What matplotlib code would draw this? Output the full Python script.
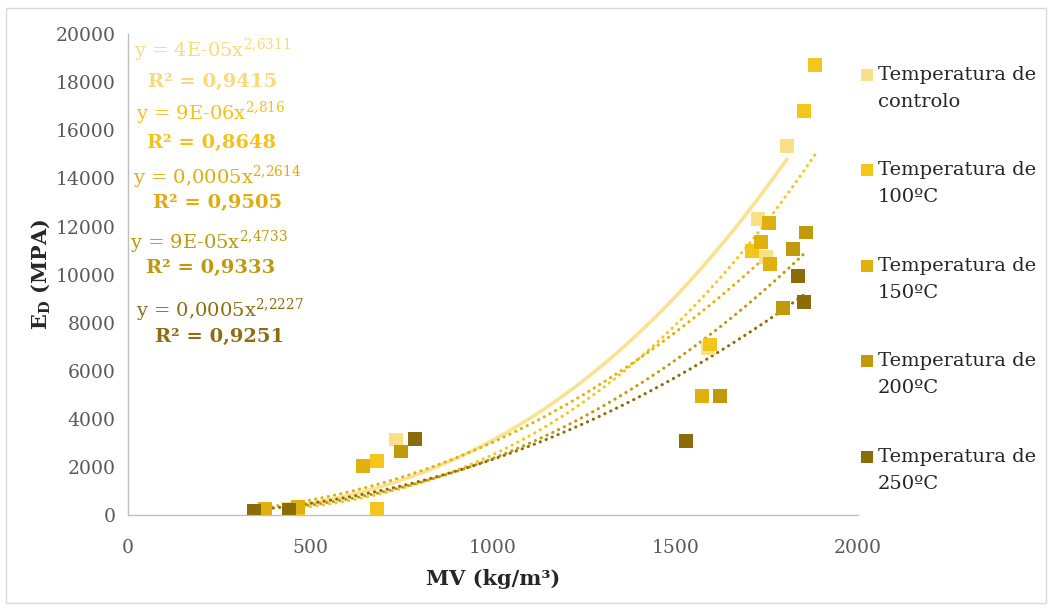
import matplotlib.pyplot as plt
import numpy as np
from matplotlib.lines import Line2D
from matplotlib.patches import Rectangle

plt.rcParams['font.family'] = ['DejaVu Serif']
plt.rcParams['mathtext.fontset'] = 'custom'
plt.rcParams['mathtext.rm'] = 'DejaVu Serif'

# massa volumica (kg/m3) vs modulo dinamico (MPa) por temperatura
mv_controlo = [440, 734, 1588, 1726, 1748, 1805]
ed_controlo = [250, 3150, 6950, 12300, 10750, 15350]

mv_100 = [465, 681, 681, 1595, 1709, 1852, 1882]
ed_100 = [320, 2250, 280, 7100, 11000, 16800, 18700]

mv_150 = [375, 465, 644, 1573, 1734, 1756, 1759]
ed_150 = [270, 350, 2050, 4950, 11350, 12150, 10450]

mv_200 = [440, 748, 1622, 1794, 1822, 1857]
ed_200 = [150, 2650, 4950, 8600, 11050, 11750]

mv_250 = [345, 440, 786, 1528, 1836, 1852]
ed_250 = [200, 220, 3170, 3100, 9950, 8850]

labels = ["Temperatura de\ncontrolo", "Temperatura de\n100ºC", "Temperatura de\n150ºC",
          "Temperatura de\n200ºC", "Temperatura de\n250ºC"]

# linhas de tendencia de potencia y = a*x^b
coef_a = [4e-05, 9e-06, 0.0005, 9e-05, 0.0005]
coef_b = [2.6311, 2.816, 2.2614, 2.4733, 2.2227]
eq_text = [r"y = 4E-05x$^{2{,}6311}$", r"y = 9E-06x$^{2{,}816}$", r"y = 0,0005x$^{2{,}2614}$",
           r"y = 9E-05x$^{2{,}4733}$", r"y = 0,0005x$^{2{,}2227}$"]
r2_text = ["R² = 0,9415", "R² = 0,8648", "R² = 0,9505", "R² = 0,9333", "R² = 0,9251"]

colors = ['#F9DF85', '#F4C51A', '#E0B00E', '#C09A0C', '#8C6C08']
text_colors = ['#F7DA7C', '#F1C21A', '#DDAD10', '#BE980E', '#8C6D10']

series_x = [mv_controlo, mv_100, mv_150, mv_200, mv_250]
series_y = [ed_controlo, ed_100, ed_150, ed_200, ed_250]

W, H = 1052, 610
fig = plt.figure(figsize=(W / 100, H / 100), dpi=100)
ax = fig.add_axes([0.1217, 0.1552, 0.6939, 0.7891])

for i in range(5):
    x = np.array(series_x[i])
    xs = np.linspace(x.min(), x.max(), 200)
    ys = coef_a[i] * xs ** coef_b[i]
    if i == 0:
        ax.plot(xs, ys, color=colors[i], lw=2.6, alpha=0.9, solid_capstyle='round', zorder=2)
    else:
        ax.plot(xs, ys, color=colors[i], lw=2.2, linestyle=(0, (0.1, 2.0)),
                dash_capstyle='round', zorder=2)

for i in range(5):
    ax.scatter(series_x[i], series_y[i], marker='s', s=100, color=colors[i],
               edgecolors='none', zorder=3)

ax.set_xlim(0, 2000)
ax.set_ylim(0, 20000)
ax.set_xticks([0, 500, 1000, 1500, 2000])
ax.set_yticks(np.arange(0, 20001, 2000))
ax.tick_params(length=0, labelsize=13.5, labelcolor='#595959', pad=9)
ax.tick_params(axis='x', pad=17)
for s in ['top', 'right']:
    ax.spines[s].set_visible(False)
for s in ['left', 'bottom']:
    ax.spines[s].set_color('#BFBFBF')
    ax.spines[s].set_linewidth(1)

ax.set_xlabel("MV (kg/m³)", fontsize=15, fontweight='bold', color='#262626', labelpad=9)
ax.set_ylabel(r"E$_\mathregular{D}$ (MPA)", fontsize=15, fontweight='bold', color='#262626', labelpad=2)

eq_pos = [(230, 19340), (227, 16720), (244, 14060), (221, 11360), (251, 8530)]
r2_pos = [(233, 18010), (230, 15480), (244, 12980), (227, 10280), (251, 7410)]
for i in range(5):
    ax.text(eq_pos[i][0], eq_pos[i][1], eq_text[i], color=text_colors[i], fontsize=14,
            ha='center', va='center')
    ax.text(r2_pos[i][0], r2_pos[i][1], r2_text[i], color=text_colors[i], fontsize=14,
            fontweight='bold', ha='center', va='center')

# legenda desenhada a direita, marcador alinhado com a primeira linha
leg_y = [75, 170, 266, 361, 457]
for i in range(5):
    fig.add_artist(Line2D([867 / W], [1 - leg_y[i] / H], transform=fig.transFigure,
                          marker='s', markersize=9, color=colors[i], markeredgewidth=0,
                          linestyle='none'))
    fig.text(878 / W, 1 - (leg_y[i] - 9) / H, labels[i], fontsize=14, color='#262626',
             ha='left', va='top', linespacing=1.62)

fig.patches.append(Rectangle((0.006, 0.012), 0.988, 0.975, transform=fig.transFigure,
                             fill=False, edgecolor='#D9D9D9', lw=1))

fig.savefig("out.png", dpi=100)
